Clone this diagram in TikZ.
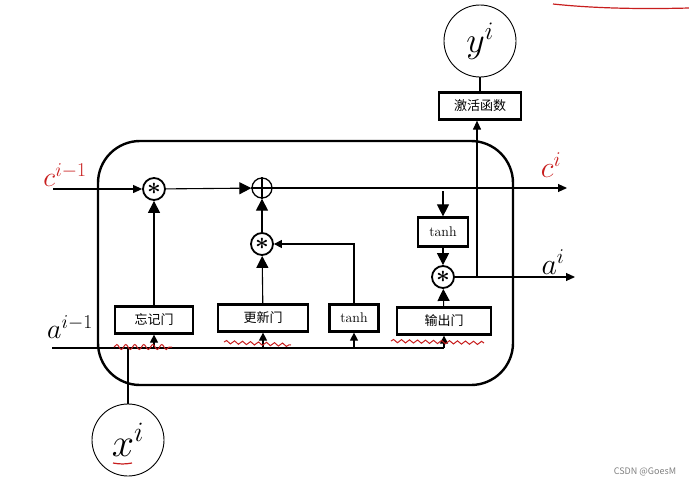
\RequirePackage{fix-cm}
\documentclass[tikz,border=0pt]{standalone}
\usepackage{amsmath,amssymb,bm}
\usepackage{fontspec}
\newfontfamily\cjk{Noto Sans CJK SC}
\usetikzlibrary{arrows.meta,decorations.pathmorphing}
\definecolor{redink}{RGB}{200,30,30}
\begin{document}
\begin{tikzpicture}[x=1pt,y=-1pt,
  gate/.style={draw,line width=2.2pt,minimum height=27pt,inner sep=0pt,font=\cjk\fontsize{13}{13}\selectfont},
  op/.style={circle,draw,line width=1.8pt,minimum size=22pt,inner sep=0pt},
  bigc/.style={circle,draw,line width=0.9pt,minimum size=72pt,inner sep=0pt},
  ln/.style={line width=1.1pt},
  bigtip/.style={-{Triangle[length=12pt,width=12pt]}},
  midtip/.style={-{Triangle[length=9pt,width=8pt]}},
  smalltip/.style={-{Triangle[length=8pt,width=8pt]}},
  squig/.style={redink,line width=1pt,decorate,decoration={snake,amplitude=1.6pt,segment length=8pt}},
  lab/.style={inner sep=0pt},
  star/.style={font=\fontsize{24}{24}\selectfont}
]
\useasboundingbox (0,0) rectangle (689,488);
% cell
\draw[line width=2.4pt,rounded corners=42pt] (98,141) rectangle (513,385);
% operators
\node[op,star] (m1) at (154,189) {$\bm{\ast}$};
\node[op,line width=1.3pt,minimum size=20pt] (plus) at (262,188) {};
\draw[line width=1.3pt] (plus.north) -- (plus.south) (plus.west) -- (plus.east);
\node[op,star] (m2) at (262,244) {$\bm{\ast}$};
\node[op,star] (m3) at (443,277) {$\bm{\ast}$};
% gates
\node[gate,minimum width=78pt] (forget) at (154,320) {忘记门};
\node[gate,minimum width=90pt] (update) at (263,318) {更新门};
\node[gate,minimum width=49pt,font=\fontsize{14}{14}\selectfont] (tanh1) at (354,318) {tanh};
\node[gate,minimum width=94pt] (outg) at (444,321) {输出门};
\node[gate,minimum width=50pt,minimum height=29pt,font=\fontsize{14}{14}\selectfont] (tanh2) at (443,232) {tanh};
\node[gate,minimum width=82pt] (act) at (480,106) {激活函数};
% big circles
\node[bigc] (y) at (480,41) {\fontsize{36}{36}\selectfont$y^i$};
\node[bigc] (x) at (128,440) {\fontsize{40}{40}\selectfont$x^i$};
% coordinates
\coordinate (cin) at (53,189);
\coordinate (cout) at (567,188);
\coordinate (ain) at (52,348);
\coordinate (aend) at (444,348);
\coordinate (xj) at (128,348);
\coordinate (jf) at (154,348);
\coordinate (ju) at (263,348);
\coordinate (jt) at (354,348);
\coordinate (t2top) at (443,191);
\coordinate (aout) at (575,277);
\coordinate (br) at (477,277);
% memory path
\draw[ln,midtip] (cin) -- (m1);
\draw[ln,bigtip] (m1) -- (plus);
\draw[ln,midtip] (plus) -- (cout);
\draw[ln,bigtip] (m2) -- (plus);
\draw[ln,bigtip] (forget) -- (m1);
\draw[ln,bigtip] (update) -- (m2);
\draw[ln,smalltip] (tanh1.north) |- (m2);
% a line
\draw[ln] (ain) -- (aend);
\draw[ln] (x) -- (xj);
\draw[ln,smalltip] (jf) -- (forget);
\draw[ln,smalltip] (ju) -- (update);
\draw[ln,smalltip] (jt) -- (tanh1);
\draw[ln,smalltip] (aend) -- (outg);
% output
\draw[ln,bigtip] (t2top) -- (tanh2);
\draw[ln,bigtip] (tanh2) -- (m3);
\draw[ln,bigtip] (outg) -- (m3);
\draw[ln,midtip] (m3) -- (aout);
\draw[ln,midtip] (br) -- (br |- act.south);
\draw[ln] (act) -- (y);
% labels
\node[lab,redink] (lc0) at (65,175) {\fontsize{28}{28}\selectfont$c^{i-1}$};
\node[lab] (la0) at (70,327) {\fontsize{28}{28}\selectfont$a^{i-1}$};
\node[lab,redink] (lc1) at (551,165) {\fontsize{30}{30}\selectfont$c^{i}$};
\node[lab] (la1) at (553,262) {\fontsize{30}{30}\selectfont$a^{i}$};
% red annotations
\draw[squig,decoration={amplitude=2.5pt,segment length=9pt}] (114,347) -- (172,347);
\draw[squig] (224,342) -- (291,345);
\draw[squig] (391,341) -- (484,343);
\draw[redink,line width=1.2pt] (113,463) to[bend right=10] (132,463);
\draw[redink,line width=1.2pt] (553,4) .. controls (600,9) and (650,9) .. (689,8);
% watermark
\node[lab,gray,font=\fontsize{9}{9}\selectfont\cjk] (wm) at (645,472) {CSDN @GoesM};
\end{tikzpicture}
\end{document}
